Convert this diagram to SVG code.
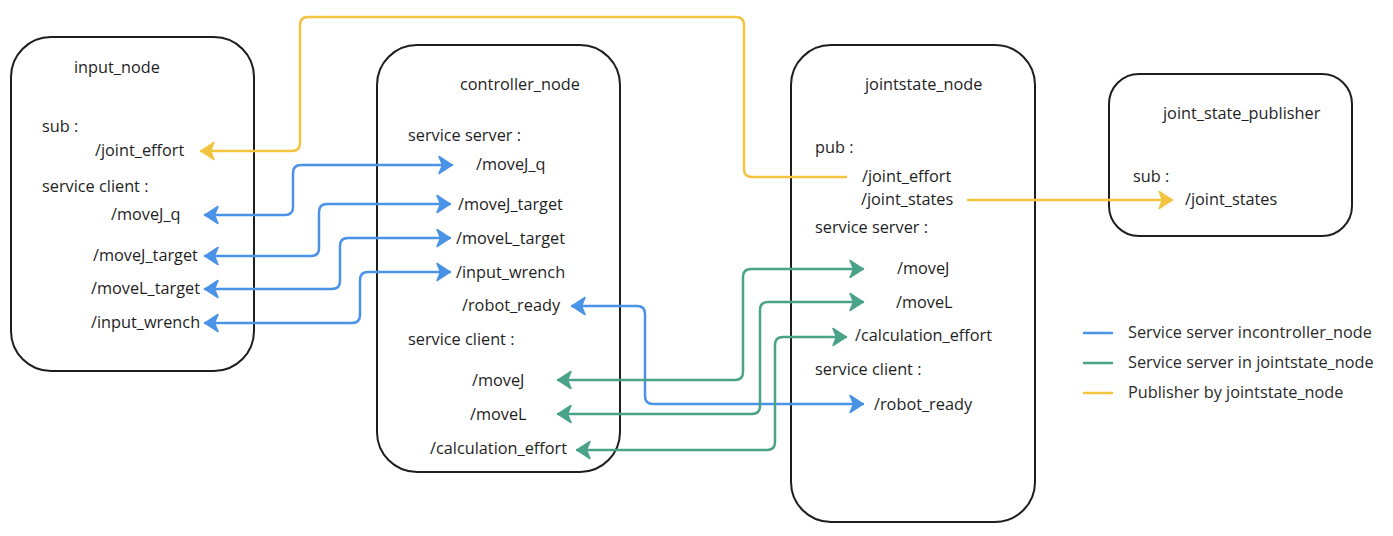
<svg xmlns="http://www.w3.org/2000/svg" width="1393" height="536" viewBox="0 0 1393 536">
<defs>
<style>
.box{fill:#ffffff;stroke:#1e1e1e;stroke-width:2}
text{font-family:"Open Sans","Noto Sans","Liberation Sans",sans-serif;font-size:16.3px;fill:#1e1e1e}
.leg{fill:#2a2a2a}
.c{fill:none;stroke-width:2.5;stroke-linejoin:round;stroke-linecap:round}
.blue{stroke:#4a93e6}
.green{stroke:#4aa387}
.yellow{stroke:#f3c440}
</style>
<marker id="ab" viewBox="-16 -11 18 22" refX="0" refY="0" markerWidth="18" markerHeight="22" markerUnits="userSpaceOnUse" orient="auto-start-reverse">
<path d="M0,0 L-13,-8.5 L-9.5,0 L-13,8.5 Z" fill="#4a93e6" stroke="#4a93e6" stroke-width="1.5" stroke-linejoin="round"/>
</marker>
<marker id="ag" viewBox="-16 -11 18 22" refX="0" refY="0" markerWidth="18" markerHeight="22" markerUnits="userSpaceOnUse" orient="auto-start-reverse">
<path d="M0,0 L-13,-8.5 L-9.5,0 L-13,8.5 Z" fill="#4aa387" stroke="#4aa387" stroke-width="1.5" stroke-linejoin="round"/>
</marker>
<marker id="ay" viewBox="-16 -11 18 22" refX="0" refY="0" markerWidth="18" markerHeight="22" markerUnits="userSpaceOnUse" orient="auto-start-reverse">
<path d="M0,0 L-13,-8.5 L-9.5,0 L-13,8.5 Z" fill="#f3c440" stroke="#f3c440" stroke-width="1.5" stroke-linejoin="round"/>
</marker>
</defs>
<rect width="1393" height="536" fill="#ffffff"/>

<g id="input_node">
<rect class="box" x="11" y="37" width="243" height="334" rx="40" ry="40"/>
<text x="74" y="73">input_node</text>
<text x="42" y="132">sub :</text>
<text x="95" y="156">/joint_effort</text>
<text x="42" y="192">service client :</text>
<text x="111" y="220">/moveJ_q</text>
<text x="93" y="261">/moveJ_target</text>
<text x="91" y="294">/moveL_target</text>
<text x="91" y="328">/input_wrench</text>
</g>

<g id="controller_node">
<rect class="box" x="377" y="45" width="243" height="427" rx="40" ry="40"/>
<text x="460" y="90">controller_node</text>
<text x="408" y="141">service server :</text>
<text x="476" y="170">/moveJ_q</text>
<text x="458" y="210">/moveJ_target</text>
<text x="456" y="244">/moveL_target</text>
<text x="456" y="278">/input_wrench</text>
<text x="462" y="311">/robot_ready</text>
<text x="408" y="345">service client :</text>
<text x="472" y="386">/moveJ</text>
<text x="470" y="420">/moveL</text>
<text x="430" y="454">/calculation_effort</text>
</g>

<g id="jointstate_node">
<rect class="box" x="791" y="45" width="244" height="477" rx="40" ry="40"/>
<text x="865" y="90">jointstate_node</text>
<text x="815" y="153">pub :</text>
<text x="862" y="182">/joint_effort</text>
<text x="861" y="205">/joint_states</text>
<text x="815" y="233">service server :</text>
<text x="897" y="274">/moveJ</text>
<text x="896" y="308">/moveL</text>
<text x="855" y="341">/calculation_effort</text>
<text x="815" y="375">service client :</text>
<text x="874" y="410">/robot_ready</text>
</g>

<g id="joint_state_publisher">
<rect class="box" x="1109" y="74" width="243" height="162" rx="30" ry="30"/>
<text x="1163" y="119">joint_state_publisher</text>
<text x="1133" y="182">sub :</text>
<text x="1185" y="205">/joint_states</text>
</g>

<g id="connectors">
<path class="c yellow" d="M846,177 H752 Q744,177 744,169 V25 Q744,17 736,17 H308 Q300,17 300,25 V143 Q300,151 292,151 H201" marker-end="url(#ay)"/>
<path class="c yellow" d="M968,200 H1172" marker-end="url(#ay)"/>
<path class="c blue" d="M205,215 H285 Q293,215 293,207 V173 Q293,165 301,165 H452" marker-start="url(#ab)" marker-end="url(#ab)"/>
<path class="c blue" d="M205,256 H311 Q319,256 319,248 V212 Q319,204 327,204 H450" marker-start="url(#ab)" marker-end="url(#ab)"/>
<path class="c blue" d="M205,289 H332 Q340,289 340,281 V246 Q340,238 348,238 H450" marker-start="url(#ab)" marker-end="url(#ab)"/>
<path class="c blue" d="M205,323 H352 Q360,323 360,315 V280 Q360,272 368,272 H450" marker-start="url(#ab)" marker-end="url(#ab)"/>
<path class="c blue" d="M572,306 H637 Q645,306 645,314 V396 Q645,404 653,404 H863" marker-start="url(#ab)" marker-end="url(#ab)"/>
<path class="c green" d="M558,380 H735 Q743,380 743,372 V277 Q743,269 751,269 H863" marker-start="url(#ag)" marker-end="url(#ag)"/>
<path class="c green" d="M558,414 H752 Q760,414 760,406 V310 Q760,302 768,302 H863" marker-start="url(#ag)" marker-end="url(#ag)"/>
<path class="c green" d="M577,450 H767 Q775,450 775,442 V345 Q775,337 783,337 H846" marker-start="url(#ag)" marker-end="url(#ag)"/>
</g>

<g id="legend">
<line class="c blue" x1="1084" y1="333" x2="1112" y2="333"/>
<line class="c green" x1="1084" y1="363" x2="1112" y2="363"/>
<line class="c yellow" x1="1084" y1="393" x2="1112" y2="393"/>
<text class="leg" x="1128" y="338">Service server incontroller_node</text>
<text class="leg" x="1128" y="368">Service server in jointstate_node</text>
<text class="leg" x="1128" y="398">Publisher by jointstate_node</text>
</g>
</svg>
